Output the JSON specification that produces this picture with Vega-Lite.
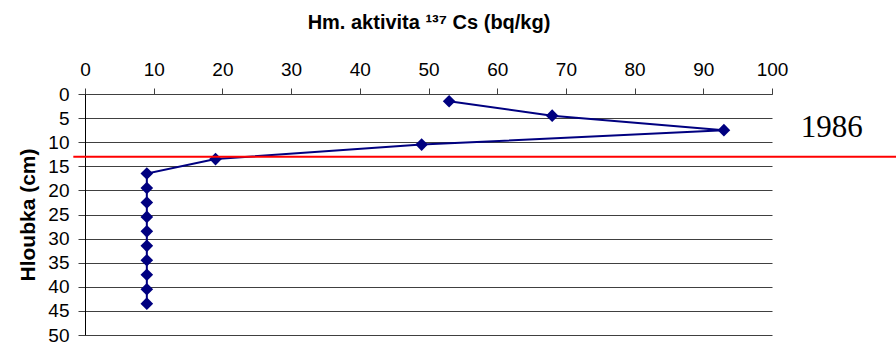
{
  "$schema": "https://vega.github.io/schema/vega-lite/v6.json",
  "autosize": {"type": "none"},
  "width": 687,
  "height": 241,
  "padding": {"left": 85, "top": 94, "right": 124, "bottom": 14},
  "background": "white",
  "config": {
    "view": {"stroke": null},
    "font": "Liberation Sans"
  },
  "datasets": {
    "profile": [
      {"aktivita": 53, "hloubka": 1.5},
      {"aktivita": 68, "hloubka": 4.5},
      {"aktivita": 93, "hloubka": 7.5},
      {"aktivita": 49, "hloubka": 10.5},
      {"aktivita": 19, "hloubka": 13.5},
      {"aktivita": 9, "hloubka": 16.5},
      {"aktivita": 9, "hloubka": 19.5},
      {"aktivita": 9, "hloubka": 22.5},
      {"aktivita": 9, "hloubka": 25.5},
      {"aktivita": 9, "hloubka": 28.5},
      {"aktivita": 9, "hloubka": 31.5},
      {"aktivita": 9, "hloubka": 34.5},
      {"aktivita": 9, "hloubka": 37.5},
      {"aktivita": 9, "hloubka": 40.5},
      {"aktivita": 9, "hloubka": 43.5}
    ],
    "linka": [{"aktivita": -1.7, "aktivita2": 125, "hloubka": 13}],
    "popisek": [{"aktivita": 108.7, "hloubka": 8.9, "rok": "1986"}]
  },
  "encoding": {
    "x": {
      "field": "aktivita", "type": "quantitative",
      "scale": {"domain": [0, 100], "nice": false, "zero": false},
      "axis": {
        "orient": "top",
        "title": "Hm. aktivita ¹³⁷ Cs (bq/kg)",
        "titleFont": "Liberation Sans",
        "titleFontSize": 20,
        "titleFontWeight": "bold",
        "titleColor": "black",
        "titlePadding": 28,
        "values": [0, 10, 20, 30, 40, 50, 60, 70, 80, 90, 100],
        "labelFont": "Liberation Sans",
        "labelFontSize": 19,
        "labelColor": "black",
        "labelPadding": 9,
        "labelFlush": false,
        "labelOverlap": false,
        "tickSize": 6,
        "tickColor": "#404040",
        "domainColor": "#404040",
        "grid": false
      }
    },
    "y": {
      "field": "hloubka", "type": "quantitative",
      "scale": {"domain": [0, 50], "reverse": true, "nice": false, "zero": false},
      "axis": {
        "title": "Hloubka (cm)",
        "titleFont": "Liberation Sans",
        "titleFontSize": 21,
        "titleFontWeight": "bold",
        "titleColor": "black",
        "titlePadding": 9,
        "values": [0, 5, 10, 15, 20, 25, 30, 35, 40, 45, 50],
        "labelFont": "Liberation Sans",
        "labelFontSize": 19,
        "labelColor": "black",
        "labelPadding": 9,
        "labelFlush": false,
        "labelOverlap": false,
        "tickSize": 7,
        "tickColor": "#404040",
        "domainColor": "black",
        "grid": true,
        "gridColor": "#404040",
        "gridOpacity": 1,
        "gridWidth": 1
      }
    }
  },
  "layer": [
    {
      "data": {"name": "profile"},
      "mark": {"type": "line", "color": "#000080", "strokeWidth": 2},
      "encoding": {
        "order": {"field": "hloubka", "type": "quantitative"}
      }
    },
    {
      "data": {"name": "profile"},
      "mark": {"type": "point", "shape": "diamond", "filled": true, "color": "#000080", "opacity": 1, "size": 160},
      "encoding": {}
    },
    {
      "data": {"name": "linka"},
      "mark": {"type": "rule", "color": "#ff0000", "strokeWidth": 2},
      "encoding": {
        "x2": {"field": "aktivita2"}
      }
    },
    {
      "data": {"name": "popisek"},
      "mark": {"type": "text", "font": "Liberation Serif", "fontSize": 31, "color": "black", "align": "center", "baseline": "alphabetic"},
      "encoding": {
        "text": {"field": "rok"}
      }
    }
  ]
}
